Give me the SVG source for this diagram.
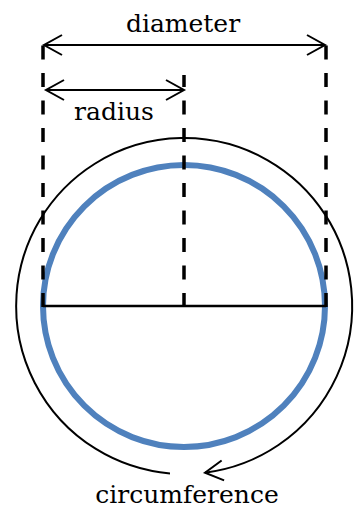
<svg xmlns="http://www.w3.org/2000/svg" width="361" height="510" viewBox="0 0 361 510">
<style>
.lbl{font-family:"DejaVu Serif","Liberation Serif",serif;font-size:25px;fill:#000;text-anchor:middle}
.dash{stroke:#000;stroke-width:3.5;stroke-dasharray:14 13.5;fill:none}
.arr{stroke:#000;stroke-width:2;fill:none}
</style>
<defs>
<marker id="chev" markerUnits="userSpaceOnUse" markerWidth="40" markerHeight="40" refX="0" refY="0" orient="auto-start-reverse" overflow="visible">
<path d="M -18,-10 L 0,0 L -18,10" fill="none" stroke="#000" stroke-width="2"/>
</marker>
</defs>
<g id="outer-circle">
<path d="M 170,473.4 A 168 168 0 1 1 205,472.7" class="arr" marker-end="url(#chev)"/>
</g>
<g id="blue-circle">
<circle cx="184" cy="306" r="141" fill="none" stroke="#4f81bd" stroke-width="6"/>
</g>
<g id="connectors">
<line x1="43" y1="307" x2="43" y2="44" class="dash"/>
<line x1="326" y1="307" x2="326" y2="44" class="dash"/>
<line x1="184" y1="307" x2="184" y2="75" class="dash"/>
<line x1="43" y1="306" x2="326" y2="306" stroke="#000" stroke-width="2.5"/>
<line x1="44" y1="45" x2="325" y2="45" class="arr" marker-start="url(#chev)" marker-end="url(#chev)"/>
<line x1="46" y1="90" x2="184" y2="90" class="arr" marker-start="url(#chev)" marker-end="url(#chev)"/>
</g>
<g id="label-diameter"><text class="lbl" x="183" y="32">diameter</text></g>
<g id="label-radius"><text class="lbl" x="114" y="120">radius</text></g>
<g id="label-circumference"><text class="lbl" x="187" y="503">circumference</text></g>
</svg>
